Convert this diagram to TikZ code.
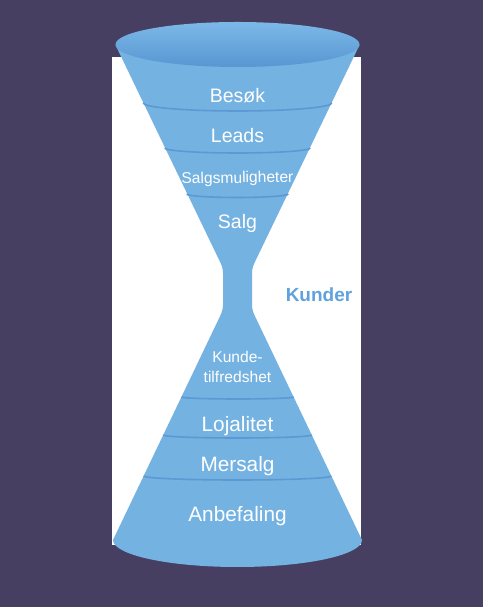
\documentclass[tikz,border=0pt]{standalone}
\usepackage{fontspec}
\setmainfont{Liberation Sans}
\usepackage{tikz}
\definecolor{fnBg}    {RGB}{ 70, 63, 98}
\definecolor{fnBlue}  {RGB}{116,178,226}
\definecolor{fnBlueD} {RGB}{ 92,153,210}
\definecolor{fnRimL}  {RGB}{124,184,231}
\definecolor{fnRimD}  {RGB}{ 88,150,211}
\definecolor{fnLabel} {RGB}{ 95,162,220}

\begin{document}
\begin{tikzpicture}[x=1pt,y=1pt,
    every node/.style={anchor=base,inner sep=0pt,text=white},
    stageU/.style={font=\fontsize{19.5}{23}\selectfont},
    stageS/.style={font=\fontsize{15.6}{20}\selectfont},
    stageL/.style={font=\fontsize{20.8}{25}\selectfont},
    divider/.style={draw=fnBlueD,line width=1.6pt}
  ]
  % Background and card
  \fill[fnBg] (0,0) rectangle (483,607);
  \fill[white] (112,62) rectangle (361,550);
  % Funnel body with neck
  \fill[fnBlue] (115.5,562) [rounded corners=5pt] -- (223,339) -- (223,297)
      [sharp corners] -- (113,67)
      arc[start angle=180,end angle=360,x radius=124.5,y radius=27]
      [rounded corners=5pt] -- (252,297) -- (252,339) [sharp corners]
      -- (359.5,562) -- cycle;
  % Opening
  \shade[top color=fnRimL,bottom color=fnRimD]
      (237.5,562.5) ellipse[x radius=122,y radius=22.5];
  % Upper dividers
  \draw[divider] (143.2,504) arc[start angle=180,end angle=360,x radius=94.3,y radius=8];
  \draw[divider] (164.7,459) arc[start angle=180,end angle=360,x radius=72.8,y radius=5];
  \draw[divider] (186.7,413) arc[start angle=180,end angle=360,x radius=50.8,y radius=3.5];
  % Lower dividers
  \draw[divider] (181.4,210) arc[start angle=180,end angle=360,x radius=56.1,y radius=2];
  \draw[divider] (163.2,172) arc[start angle=180,end angle=360,x radius=74.3,y radius=3];
  \draw[divider] (143.7,131) arc[start angle=180,end angle=360,x radius=93.8,y radius=4];
  % Upper stages
  \node[stageU] (besok) at (237.5,504.3) {Besøk};
  \node[stageU] (leads) at (237.5,464) {Leads};
  \node[stageS,rotate=1] (muligheter) at (237.5,424) {Salgsmuligheter};
  \node[stageU] (salg) at (237.5,378) {Salg};
  % Lower stages
  \node[stageS,align=center] (tilfreds) at (237.5,224) {Kunde-\\tilfredshet};
  \node[stageL] (lojalitet) at (237.5,175) {Lojalitet};
  \node[stageL] (mersalg) at (237.5,135) {Mersalg};
  \node[stageL] (anbefaling) at (237.5,85) {Anbefaling};
  % Side label
  \node[font=\fontsize{19}{23}\selectfont\bfseries,text=fnLabel] (kunder) at (319,305) {Kunder};
\end{tikzpicture}
\end{document}
